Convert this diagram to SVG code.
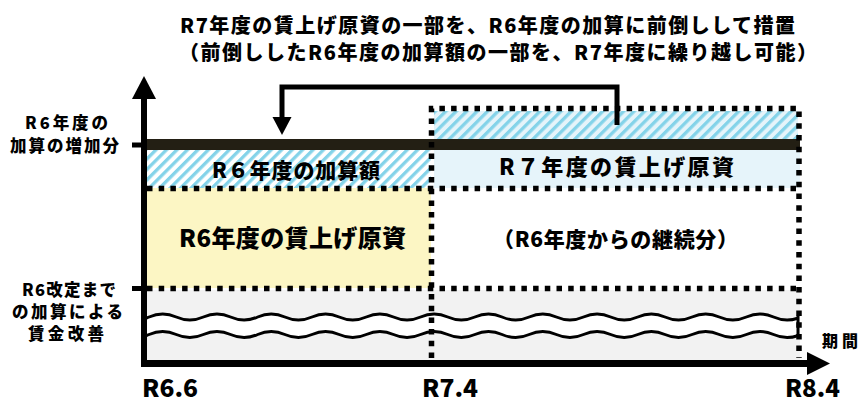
<svg xmlns="http://www.w3.org/2000/svg" width="862" height="414" viewBox="0 0 862 414">
<style>
text{font-family:"Noto Sans CJK JP","Noto Sans",sans-serif;font-weight:900;fill:#000}
.dot{fill:none;stroke:#000;stroke-width:5.5;stroke-dasharray:5.5 6.2}
.ln{fill:none;stroke:#000}
.wave{fill:none;stroke:#000;stroke-width:3}
</style>
<defs>
<pattern id="hatchW" patternUnits="userSpaceOnUse" width="7.4" height="7.4" patternTransform="rotate(45)"><rect width="7.4" height="7.4" fill="#fff"/><rect width="3.3" height="7.4" fill="#84d3e9"/></pattern>
<pattern id="hatchB" patternUnits="userSpaceOnUse" width="7.4" height="7.4" patternTransform="rotate(45)"><rect width="7.4" height="7.4" fill="#e5f4fa"/><rect width="3.3" height="7.4" fill="#84d3e9"/></pattern>
<clipPath id="waveClip"><rect x="147" y="300" width="651" height="50"/></clipPath>
<path id="w" d="M121.95,317 q13.575,6 27.15,0 t27.15,0 t27.15,0 t27.15,0 t27.15,0 t27.15,0 t27.15,0 t27.15,0 t27.15,0 t27.15,0 t27.15,0 t27.15,0 t27.15,0 t27.15,0 t27.15,0 t27.15,0 t27.15,0 t27.15,0 t27.15,0 t27.15,0 t27.15,0 t27.15,0 t27.15,0 t27.15,0 t27.15,0 t27.15,0"/>
</defs>
<rect width="862" height="414" fill="#fff"/>

<g id="title">
<text x="180" y="33" font-size="20" textLength="615" lengthAdjust="spacing">R7年度の賃上げ原資の一部を、R6年度の加算に前倒しして措置</text>
<text x="179" y="60" font-size="20" textLength="638" lengthAdjust="spacing">（前倒ししたR6年度の加算額の一部を、R7年度に繰り越し可能）</text>
</g>

<g id="base-improvement">
<rect x="147" y="290" width="653" height="70" fill="#f2f2f2"/>
<g clip-path="url(#waveClip)">
<use href="#w" transform="translate(0,8.75)" style="fill:none;stroke:#fff;stroke-width:18"/>
<use href="#w" class="wave"/>
<use href="#w" class="wave" transform="translate(0,17.5)"/>
</g>
<line x1="798" y1="315.5" x2="798" y2="336" class="ln" stroke-width="3"/>
</g>

<g id="r6-addition">
<rect x="147" y="150" width="284" height="38" fill="url(#hatchW)"/>
<text x="212" y="178" font-size="21" textLength="168" lengthAdjust="spacing">R６年度の加算額</text>
</g>

<g id="r6-wage">
<rect x="147" y="188" width="284" height="100" fill="#fcf6c4"/>
<text x="179" y="247" font-size="24" textLength="227" lengthAdjust="spacing">R6年度の賃上げ原資</text>
</g>

<g id="r7-advance">
<rect x="434" y="111" width="364" height="28" fill="url(#hatchB)"/>
</g>

<g id="r7-wage">
<rect x="434" y="150" width="366" height="38" fill="#e6f4fa"/>
<text x="499" y="175" font-size="22" textLength="235" lengthAdjust="spacing">R７年度の賃上げ原資</text>
<text x="493" y="247" font-size="21" textLength="245" lengthAdjust="spacing">（R6年度からの継続分）</text>
</g>

<g id="increase-bar">
<rect x="143" y="139" width="657" height="11" fill="#231f14"/>
</g>

<g id="connectors">
<line x1="147" y1="188.5" x2="800" y2="188.5" class="dot"/>
<line x1="147" y1="288.5" x2="800" y2="288.5" class="dot"/>
<path d="M431.5,358 V108.5 H799 V358" class="dot"/>
<path d="M617,125 V87 H282 V120" class="ln" stroke-width="5"/>
<polygon points="272.5,117 291.5,117 282,135" fill="#000"/>
</g>

<g id="axes">
<line x1="144" y1="97" x2="144" y2="367" class="ln" stroke-width="6"/>
<polygon points="144,76 156,99 132,99" fill="#000"/>
<line x1="141" y1="363.5" x2="810" y2="363.5" class="ln" stroke-width="7"/>
<polygon points="830,363.5 807,352 807,375" fill="#000"/>
<rect x="132" y="142.5" width="10" height="5" fill="#000"/>
<rect x="132" y="286" width="10" height="5" fill="#000"/>
</g>

<g id="y-labels">
<text font-size="16.5"><tspan x="25" y="129" textLength="83" lengthAdjust="spacing">R6年度の</tspan><tspan x="10" y="152" textLength="109" lengthAdjust="spacing">加算の増加分</tspan></text>
<text font-size="16.5"><tspan x="22" y="295.5" textLength="94" lengthAdjust="spacing">R6改定まで</tspan><tspan x="12" y="317.5" textLength="111" lengthAdjust="spacing">の加算による</tspan><tspan x="28" y="339.5" textLength="76" lengthAdjust="spacing">賃金改善</tspan></text>
</g>

<g id="x-labels">
<text x="822" y="347" font-size="16" textLength="36" lengthAdjust="spacing">期間</text>
<text x="142" y="397" font-size="24" textLength="56" lengthAdjust="spacingAndGlyphs">R6.6</text>
<text x="422" y="397" font-size="24" textLength="56" lengthAdjust="spacingAndGlyphs">R7.4</text>
<text x="785" y="397" font-size="24" textLength="55" lengthAdjust="spacingAndGlyphs">R8.4</text>
</g>
</svg>
